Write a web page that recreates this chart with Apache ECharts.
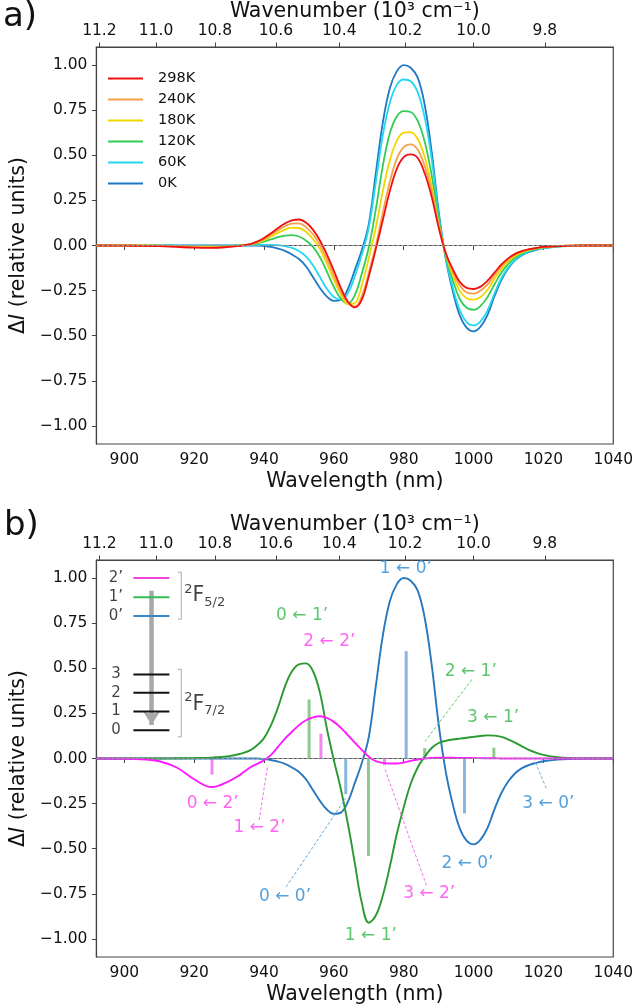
<!DOCTYPE html>
<html>
<head>
<meta charset="utf-8">
<script src="https://cdn.jsdelivr.net/npm/echarts@6/dist/echarts.min.js"></script>
<style>html,body{margin:0;padding:0;background:#fff}#c{width:636px;height:1006px}</style>
</head>
<body>
<div id="c"></div>
<script>
// ---------- DATA ----------
const wavelength = [892,900,905,910,915,920,925,930,933,936,938,940,942,944,946,948,950,952,954,956,958,960,962,964,966,968,970,972,974,976,978,980,982,984,986,988,990,992,994,996,998,1000,1002,1004,1006,1008,1010,1012,1014,1016,1018,1020,1024,1028,1032,1040];
const temps = ['298K','240K','180K','120K','60K','0K'];
const t298 = [0,-0.001,-0.002,-0.004,-0.008,-0.012,-0.013,-0.008,-0.002,0.008,0.022,0.042,0.068,0.097,0.122,0.139,0.144,0.128,0.088,0.028,-0.05,-0.14,-0.235,-0.31,-0.343,-0.3,-0.17,-0.02,0.14,0.3,0.425,0.49,0.505,0.485,0.4,0.27,0.1,-0.04,-0.13,-0.2,-0.235,-0.241,-0.228,-0.195,-0.15,-0.105,-0.07,-0.045,-0.03,-0.02,-0.013,-0.008,-0.003,-0.001,0,0];
const t240 = [0,0,0,-0.002,-0.004,-0.008,-0.01,-0.006,-0.001,0.007,0.019,0.036,0.06,0.085,0.107,0.121,0.123,0.102,0.062,0.003,-0.075,-0.165,-0.255,-0.318,-0.338,-0.28,-0.15,0.0,0.18,0.35,0.48,0.545,0.56,0.53,0.44,0.3,0.11,-0.04,-0.145,-0.22,-0.26,-0.267,-0.25,-0.215,-0.165,-0.115,-0.077,-0.05,-0.033,-0.021,-0.014,-0.009,-0.003,-0.001,0,0];
const t180 = [0,0,0,-0.001,-0.003,-0.006,-0.008,-0.005,-0.001,0.006,0.016,0.03,0.05,0.07,0.088,0.099,0.097,0.076,0.036,-0.02,-0.1,-0.19,-0.27,-0.325,-0.32,-0.22,-0.07,0.1,0.3,0.47,0.58,0.625,0.628,0.59,0.49,0.33,0.12,-0.045,-0.165,-0.25,-0.292,-0.3,-0.285,-0.245,-0.185,-0.13,-0.087,-0.057,-0.037,-0.024,-0.016,-0.01,-0.004,-0.001,0,0];
const t120 = [0,0,0,-0.001,-0.002,-0.004,-0.005,-0.003,0,0.005,0.012,0.022,0.034,0.046,0.055,0.058,0.05,0.028,-0.008,-0.065,-0.145,-0.23,-0.295,-0.322,-0.275,-0.155,-0.01,0.2,0.44,0.62,0.715,0.745,0.74,0.69,0.575,0.39,0.14,-0.055,-0.19,-0.295,-0.345,-0.356,-0.335,-0.285,-0.215,-0.15,-0.1,-0.065,-0.042,-0.028,-0.018,-0.012,-0.005,-0.002,0,0];
const t60 = [0,0,0,0,0,-0.001,-0.002,-0.001,0,0.001,0.003,0.004,0.004,0.002,-0.004,-0.013,-0.03,-0.06,-0.11,-0.175,-0.24,-0.285,-0.3,-0.265,-0.17,-0.05,0.1,0.35,0.61,0.79,0.89,0.92,0.91,0.85,0.71,0.48,0.17,-0.065,-0.23,-0.355,-0.425,-0.443,-0.42,-0.36,-0.265,-0.18,-0.12,-0.078,-0.05,-0.033,-0.022,-0.014,-0.006,-0.002,0,0];
const t0 = [0,0,0,0,0,0,0,0,0,0,0,-0.003,-0.008,-0.017,-0.03,-0.05,-0.075,-0.115,-0.175,-0.235,-0.283,-0.307,-0.3,-0.24,-0.135,-0.025,0.12,0.4,0.68,0.87,0.965,1.0,0.985,0.93,0.78,0.52,0.19,-0.07,-0.25,-0.385,-0.455,-0.476,-0.45,-0.385,-0.28,-0.19,-0.125,-0.08,-0.052,-0.035,-0.024,-0.015,-0.006,-0.002,0,0];
// panel b: contributions from each excited level
const from0p = t0;
const from1p = [0,0,0,0,0.001,0.002,0.005,0.013,0.025,0.045,0.073,0.113,0.185,0.283,0.4,0.483,0.522,0.527,0.485,0.365,0.165,-0.01,-0.17,-0.36,-0.58,-0.8,-0.91,-0.87,-0.76,-0.6,-0.42,-0.27,-0.14,-0.05,0.01,0.058,0.086,0.098,0.105,0.11,0.115,0.12,0.125,0.128,0.127,0.12,0.105,0.087,0.066,0.046,0.031,0.02,0.007,0.002,0,0];
const from2p = [0,-0.001,-0.004,-0.015,-0.05,-0.115,-0.158,-0.125,-0.092,-0.05,-0.03,-0.01,0.02,0.065,0.11,0.148,0.185,0.212,0.228,0.234,0.225,0.203,0.17,0.13,0.088,0.048,0.01,-0.015,-0.024,-0.028,-0.028,-0.022,-0.013,-0.006,0,0.003,0.004,0.004,0.004,0.003,0.003,0.002,0.002,0.001,0.001,0,0,0,0,0,0,0,0,0,0,0];
// stick transitions [wavelength, intensity]
const sticks0p = [[963.4,-0.198],[980.7,0.595],[997.4,-0.304]];
const sticks1p = [[952.9,0.327],[969.9,-0.54],[986.0,0.058],[1005.8,0.06]];
const sticks2p = [[925.1,-0.089],[956.3,0.137],[974.5,-0.037]];
// axis ticks
const wlTicks = [900,920,940,960,980,1000,1020,1040];
const wnTicks = [11.2,11.0,10.8,10.6,10.4,10.2,10.0,9.8];
const yTicks = [-1,-0.75,-0.5,-0.25,0,0.25,0.5,0.75,1];

// ---------- STYLE / ANNOTATION LAYOUT ----------
const FONT = 'DejaVu Sans';
const tempColors = ['#f01010','#f7a04a','#f2d600','#33cc55','#22d8f0','#1f78c4'];
const cBlue = '#2878c0', cGreen = '#2a9a30', cMag = '#ff1aff';
const tBlue = '#2a8ad2', tGreen = '#33b84a', tMag = '#ff40f0';
const sBlue = '#88b6de', sGreen = '#8fc98f', sMag = '#f088f0';

const ann = [
  ['1 ← 0’',980.6,1.053,tBlue],['0 ← 1’',950.9,0.794,tGreen],['2 ← 2’',958.7,0.649,tMag],
  ['2 ← 1’',999.2,0.48,tGreen],['3 ← 1’',1005.6,0.225,tGreen],['3 ← 0’',1021.4,-0.248,tBlue],
  ['2 ← 0’',998.25,-0.582,tBlue],['3 ← 2’',987.3,-0.749,tMag],['1 ← 1’',970.6,-0.981,tGreen],
  ['0 ← 0’',946,-0.764,tBlue],['1 ← 2’',938.7,-0.383,tMag],['0 ← 2’',925.3,-0.252,tMag]
];
const leaders = [
  [[999.5,0.438],[986.1,0.095],'#5cc85c'],
  [[1020.8,-0.165],[1017.4,-0.007],'#6aaede'],
  [[946.3,-0.712],[963.4,-0.22],'#5ea8dc'],
  [[938.6,-0.341],[941,-0.045],'#f06cf0'],
  [[986.5,-0.703],[974.5,-0.053],'#f06cf0']
];
const levelColors = ['#ee44d8','#33bb55','#3388cc','#111111'];
const levels = [[902.6,912.9,1.0,0],[902.6,912.9,0.893,1],[902.6,912.9,0.789,2],
  [902.6,912.9,0.466,3],[902.6,912.9,0.364,3],[902.6,912.9,0.26,3],[902.6,912.9,0.157,3]];
const levelLabels = [['2’',1.0],['1’',0.893],['0’',0.789],['3',0.466],['2',0.364],['1',0.26],['0',0.157]];

const zip = (xs, ys) => xs.map((x,i)=>[x,ys[i]]);
const fmtY = v => (v<0?'−':'') + Math.abs(v).toFixed(2);

function xAxes(gridIndex){
  const common = {
    gridIndex, type:'value', min:892, max:1040,
    splitLine:{show:false},
    axisLine:{show:true,lineStyle:{color:'#444',width:1.2}},
    axisTick:{show:true,length:4.5,lineStyle:{color:'#444',width:1}},
    nameLocation:'middle',
    nameTextStyle:{fontFamily:FONT,fontSize:20.5,color:'#111'}
  };
  return [
    Object.assign({}, common, {position:'bottom', name:'Wavelength (nm)', nameGap:27,
      axisTick:Object.assign({}, common.axisTick, {customValues:wlTicks}),
      axisLabel:{customValues:wlTicks, margin:8, fontFamily:FONT, fontSize:15.5, color:'#111', formatter:v=>String(v)}}),
    Object.assign({}, common, {position:'top', name:'Wavenumber (10³ cm⁻¹)', nameGap:22,
      axisTick:Object.assign({}, common.axisTick, {customValues:wnTicks.map(w=>10000/w)}),
      axisLabel:{customValues:wnTicks.map(w=>10000/w), margin:8, fontFamily:FONT, fontSize:15.5, color:'#111',
        formatter:v=>(10000/v).toFixed(1)}})
  ];
}
function yAxis(gridIndex){
  return {
    gridIndex, type:'value', min:-1.1, max:1.1, splitLine:{show:false},
    axisLine:{show:true,lineStyle:{color:'#444',width:1.2}},
    axisTick:{show:true,length:4.5,customValues:yTicks,lineStyle:{color:'#444',width:1}},
    axisLabel:{customValues:yTicks, margin:9, fontFamily:FONT, fontSize:15.5, color:'#111', formatter:fmtY},
    name:'Δ{i|I} (relative units)', nameLocation:'middle', nameGap:64, nameRotate:90,
    nameTextStyle:{fontFamily:FONT,fontSize:20.5,color:'#111',
      rich:{i:{fontFamily:FONT,fontSize:20.5,fontStyle:'italic',color:'#111'}}}
  };
}
const zeroLine = {silent:true, symbol:'none', label:{show:false},
  lineStyle:{color:'#999',type:[3,2],width:1}, data:[{yAxis:0}]};

const series = [];
// panel a: draw 0K first so 298K is on top
const tempData = [t298,t240,t180,t120,t60,t0];
for (let i = temps.length-1; i >= 0; i--) {
  const s = {type:'line', name:temps[i], xAxisIndex:0, yAxisIndex:0, data:zip(wavelength, tempData[i]),
    showSymbol:false, symbol:'none', smooth:0.4, lineStyle:{color:tempColors[i], width:1.8},
    itemStyle:{color:tempColors[i]}, z:3};
  if (i === temps.length-1) s.markLine = zeroLine;
  series.push(s);
}
// panel b: sticks
function stickSeries(data, color){
  return {type:'custom', xAxisIndex:2, yAxisIndex:1, data, silent:true, z:2,
    renderItem:(p, api)=>{
      const a = api.coord([api.value(0),0]), b = api.coord([api.value(0),api.value(1)]);
      return {type:'line', shape:{x1:a[0],y1:a[1],x2:b[0],y2:b[1]}, style:{stroke:color,lineWidth:3}};
    }};
}
series.push(stickSeries(sticks0p, sBlue), stickSeries(sticks1p, sGreen), stickSeries(sticks2p, sMag));
// panel b: curves
[[from0p,cBlue,'b0'],[from1p,cGreen,'b1'],[from2p,cMag,'b2']].forEach((d,k)=>{
  const s = {type:'line', name:d[2], xAxisIndex:2, yAxisIndex:1, data:zip(wavelength,d[0]),
    showSymbol:false, symbol:'none', smooth:0.4, lineStyle:{color:d[1],width:1.9}, z:3};
  if (k===0) s.markLine = zeroLine;
  series.push(s);
});
// leader lines
leaders.forEach(l=>series.push({type:'line', xAxisIndex:2, yAxisIndex:1, data:[l[0],l[1]], symbol:'none',
  silent:true, lineStyle:{color:l[2],width:1,type:[3,2]}, z:4}));
// transition labels
series.push({type:'scatter', xAxisIndex:2, yAxisIndex:1, symbolSize:1, silent:true, z:6,
  itemStyle:{color:'rgba(0,0,0,0)'},
  data: ann.map(a=>({name:a[0], value:[a[1],a[2]], label:{color:a[3]}})),
  label:{show:true, position:'inside', fontFamily:FONT, fontSize:17, formatter:p=>p.name}});
// inset: energy levels
series.push({type:'custom', xAxisIndex:2, yAxisIndex:1, data:levels, silent:true, z:5,
  renderItem:(p, api)=>{
    const a = api.coord([api.value(0),api.value(2)]), b = api.coord([api.value(1),api.value(2)]);
    return {type:'line', shape:{x1:a[0],y1:a[1],x2:b[0],y2:b[1]}, style:{stroke:levelColors[api.value(3)],lineWidth:2}};
  }});
series.push({type:'scatter', xAxisIndex:2, yAxisIndex:1, symbolSize:1, silent:true, z:6,
  itemStyle:{color:'rgba(0,0,0,0)'},
  data: levelLabels.map(l=>({name:l[0], value:[897.6,l[1]]})),
  label:{show:true, position:'inside', fontFamily:FONT, fontSize:15, color:'#111', formatter:p=>p.name}});
// brackets + arrow
series.push({type:'line', xAxisIndex:2, yAxisIndex:1, symbol:'none', silent:true, z:5,
  data:[[915.3,1.032],[916.3,1.032],[916.3,0.772],[915.3,0.772]], lineStyle:{color:'#aaa',width:1},
  markLine:{silent:true, symbol:['none','arrow'], symbolSize:[13,14], label:{show:false},
    lineStyle:{color:'#a8a8a8',width:4.5,type:'solid'}, itemStyle:{color:'#a8a8a8'},
    data:[[{coord:[907.8,0.929]},{coord:[907.8,0.185]}]]}});
series.push({type:'line', xAxisIndex:2, yAxisIndex:1, symbol:'none', silent:true, z:5,
  data:[[915.3,0.494],[916.3,0.494],[916.3,0.12],[915.3,0.12]], lineStyle:{color:'#aaa',width:1}});
series.push({type:'scatter', xAxisIndex:2, yAxisIndex:1, symbolSize:1, silent:true, z:6,
  itemStyle:{color:'rgba(0,0,0,0)'},
  data:[{name:'{s|2}{f|F}{b|5/2}', value:[923,0.9]},{name:'{s|2}{f|F}{b|7/2}', value:[923,0.3]}],
  label:{show:true, position:'inside', formatter:p=>p.name, color:'#111',
    rich:{s:{fontFamily:FONT,fontSize:13,lineHeight:14,verticalAlign:'top',color:'#111'},
          f:{fontFamily:FONT,fontSize:20.5,lineHeight:26,color:'#111'},
          b:{fontFamily:FONT,fontSize:13,lineHeight:14,verticalAlign:'bottom',color:'#111'}}}});

const option = {
  animation:false, backgroundColor:'#fff',
  grid:[
    {left:83,right:20,top:47,height:397,show:true,borderColor:'#444',borderWidth:1.2},
    {left:83,right:20,top:560,height:397,show:true,borderColor:'#444',borderWidth:1.2}
  ],
  xAxis:[...xAxes(0), ...xAxes(1)],
  yAxis:[yAxis(0), yAxis(1)],
  legend:{orient:'vertical', left:103, top:66, icon:'rect', itemWidth:35, itemHeight:2.2, itemGap:6,
    data:temps, formatter:n=>'{p| }'+n,
    textStyle:{fontFamily:FONT,fontSize:14.5,lineHeight:14.5,color:'#111',rich:{p:{width:10}}}},
  graphic:[
    {type:'text', left:3, top:0, style:{text:'a)', font:'34px "DejaVu Sans"', fill:'#111'}},
    {type:'text', left:4, top:509, style:{text:'b)', font:'34px "DejaVu Sans"', fill:'#111'}}
  ],
  series
};
const chart = echarts.init(document.getElementById('c'), null, {renderer:'canvas'});
chart.setOption(option);
</script>
</body>
</html>
